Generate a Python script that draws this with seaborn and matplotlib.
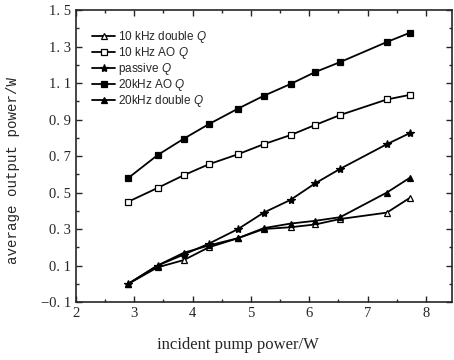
import matplotlib
matplotlib.use("Agg")
import matplotlib.pyplot as plt
import seaborn as sns
import pandas as pd
from matplotlib.ticker import MultipleLocator, FixedLocator, FuncFormatter

# pump power (W)
pump = [2.9, 3.4, 3.85, 4.28, 4.78, 5.22, 5.68, 6.1, 6.53, 7.33, 7.72]

# average output power (W)
p10k_double = [0.0, 0.09, 0.13, 0.20, 0.25, 0.30, 0.31, 0.325, 0.355, 0.39, 0.47]
p10k_ao = [0.45, 0.525, 0.595, 0.655, 0.71, 0.765, 0.815, 0.87, 0.925, 1.01, 1.035]
p_passive = [0.0, 0.10, 0.16, 0.22, 0.30, 0.39, 0.46, 0.55, 0.63, 0.765, 0.825]
p20k_ao = [0.58, 0.705, 0.795, 0.875, 0.96, 1.03, 1.095, 1.16, 1.215, 1.325, 1.375]
p20k_double = [0.0, 0.10, 0.17, 0.21, 0.25, 0.305, 0.33, 0.345, 0.365, 0.50, 0.58]

labels = ['10 kHz double $Q$', '10 kHz AO $Q$', 'passive $Q$',
          '20kHz AO $Q$', '20kHz double $Q$']
series = [p10k_double, p10k_ao, p_passive, p20k_ao, p20k_double]
markers = ['^', 's', '*', 's', '^']
filled = [False, False, True, True, True]
msizes = [4.5, 4, 6, 4, 5]

sns.set_style("ticks")
plt.rcParams['font.family'] = ['Liberation Serif', 'DejaVu Serif']
plt.rcParams['mathtext.fontset'] = 'custom'
plt.rcParams['mathtext.it'] = 'Liberation Sans:italic'

fig = plt.figure(figsize=(4.54, 3.6), dpi=100)
ax = fig.add_axes([0.167, 0.161, 0.829, 0.811])

for lab, ys, m, f, ms in zip(labels, series, markers, filled, msizes):
    df = pd.DataFrame({'x': pump, 'y': ys})
    sns.lineplot(data=df, x='x', y='y', ax=ax, color='black', lw=1.3,
                 marker=m, markersize=ms, markeredgecolor='black',
                 markerfacecolor='black' if f else 'white',
                 markeredgewidth=0.9, label=lab)

ax.set_xlim(2, 8.45)
ax.set_ylim(-0.1, 1.5)
ax.xaxis.set_major_locator(FixedLocator([2, 3, 4, 5, 6, 7, 8]))
ax.xaxis.set_minor_locator(MultipleLocator(0.5))
ax.yaxis.set_major_locator(FixedLocator([-0.1, 0.1, 0.3, 0.5, 0.7, 0.9, 1.1, 1.3, 1.5]))
ax.yaxis.set_minor_locator(MultipleLocator(0.1))
ax.yaxis.set_major_formatter(
    FuncFormatter(lambda v, p: f"{v:.1f}".replace('-', '\u2212').replace('.', '. ')))
ax.tick_params(which='both', direction='in', top=True, right=True, labelsize=10.5)
ax.tick_params(which='major', length=4, width=1)
ax.tick_params(which='minor', length=2.5, width=1)
for s in ax.spines.values():
    s.set_linewidth(1.2)

ax.set_xlabel('incident pump power/W', fontsize=12)
ax.xaxis.set_label_coords(0.43, -0.12)
ax.set_ylabel('average output power/W', fontsize=10.2, family=['Liberation Mono', 'DejaVu Sans Mono'])
ax.yaxis.set_label_coords(-0.148, 0.45)

leg = ax.legend(loc='upper left', frameon=False, fontsize=8.5, handlelength=2.0,
                labelspacing=0.0, handletextpad=0.25, borderaxespad=0.0,
                bbox_to_anchor=(0.03, 0.95))
for t in leg.get_texts():
    t.set_family(['Liberation Sans', 'DejaVu Sans'])

fig.savefig('out.png', dpi=100)
